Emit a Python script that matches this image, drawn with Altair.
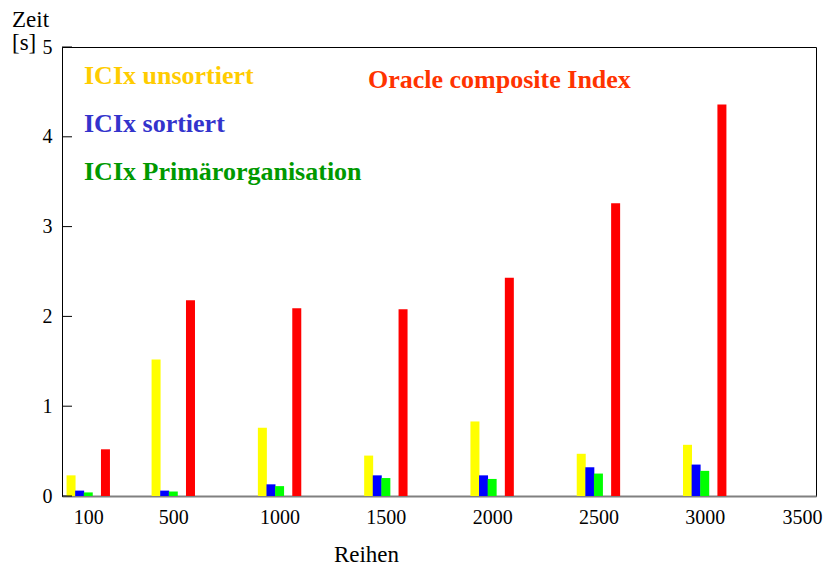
import altair as alt
import pandas as pd

rows = [100, 500, 1000, 1500, 2000, 2500, 3000]
unsortiert = [0.23, 1.52, 0.76, 0.45, 0.83, 0.47, 0.57]
sortiert = [0.06, 0.06, 0.13, 0.23, 0.23, 0.32, 0.35]
primaer = [0.04, 0.05, 0.11, 0.20, 0.19, 0.25, 0.28]
oracle = [0.52, 2.18, 2.09, 2.08, 2.43, 3.26, 4.36]

x_ticks = [100, 500, 1000, 1500, 2000, 2500, 3000, 3500]
y_ticks = [0, 1, 2, 3, 4, 5]

series_names = ["ICIx unsortiert", "ICIx sortiert", "ICIx Primärorganisation",
                "Oracle composite Index"]
series_values = [unsortiert, sortiert, primaer, oracle]
bar_colors = ["#FFFF00", "#0000FF", "#00FF00", "#FF0000"]
text_colors = ["#FFCC00", "#3333CC", "#009900", "#FF3300"]
bar_offsets = [-17.2, -8.6, 0, 17.2]

FONT = "Liberation Serif"
W, H = 754, 449

xscale = alt.Scale(domain=[0, 3500], nice=False, zero=True)
yscale = alt.Scale(domain=[0, 5], nice=False)

xaxis = alt.Axis(values=x_ticks, grid=False, ticks=False, labelFont=FONT,
                 labelFontSize=20, labelColor="black", labelPadding=11,
                 labelFlush=False,
                 labelAlign=alt.ExprRef(expr="datum.value >= 3500 ? 'right' : 'center'"),
                 labelOffset=alt.ExprRef(expr="datum.value >= 3500 ? 11 : 0"),
                 domainColor="#808080", domainWidth=2,
                 format="d",
                 title="Reihen", titleFont=FONT, titleFontSize=23,
                 titleFontWeight="normal", titleColor="black",
                 titleX=304, titleY=65, titleAlign="center",
                 titleBaseline="alphabetic", titleAnchor="start")
yaxis = alt.Axis(values=y_ticks, grid=False, ticks=False, labelFont=FONT,
                 labelFontSize=20, labelColor="black", labelPadding=10,
                 domainColor="black", domainWidth=1, title=None, format="d")

layers = []
for name, vals, col, off in zip(series_names, series_values, bar_colors, bar_offsets):
    df = pd.DataFrame({"Reihen": rows, "Zeit": vals, "Serie": name})
    layers.append(
        alt.Chart(df).mark_bar(width=9, color=col).encode(
            x=alt.X("Reihen:Q", scale=xscale, axis=xaxis),
            y=alt.Y("Zeit:Q", scale=yscale, axis=yaxis),
            xOffset=alt.value(off),
        )
    )

# inward ticks on the left axis
tick_df = pd.DataFrame({"t": y_ticks})
layers.append(
    alt.Chart(tick_df).mark_rule(color="black", strokeWidth=1).encode(
        y=alt.Y("t:Q", scale=yscale, axis=yaxis),
        x=alt.value(0), x2=alt.value(10),
    )
)

# series labels (in-plot legend)
label_pos = [(22, 37), (22, 85), (22, 133), (306, 41)]
for name, col, (px, py) in zip(series_names, text_colors, label_pos):
    layers.append(
        alt.Chart(pd.DataFrame({"label": [name]})).mark_text(
            font=FONT, fontSize=26, fontWeight="bold", color=col,
            align="left", baseline="alphabetic",
        ).encode(text="label:N", x=alt.value(px), y=alt.value(py))
    )

# y-axis title
for txt, py in [("Zeit", -20), ("[s]", 3)]:
    layers.append(
        alt.Chart(pd.DataFrame({"label": [txt]})).mark_text(
            font=FONT, fontSize=23, color="black", align="left",
            baseline="alphabetic",
        ).encode(text="label:N", x=alt.value(-50), y=alt.value(py))
    )

chart = alt.layer(*layers).properties(
    width=W, height=H,
    autosize=alt.AutoSizeParams(type="none"),
    padding={"left": 54, "top": 39, "right": 13, "bottom": 69},
    background="white",
).configure_view(stroke="black", strokeWidth=1)

chart.save("out.html", embed_options={"renderer": "svg", "actions": False})
